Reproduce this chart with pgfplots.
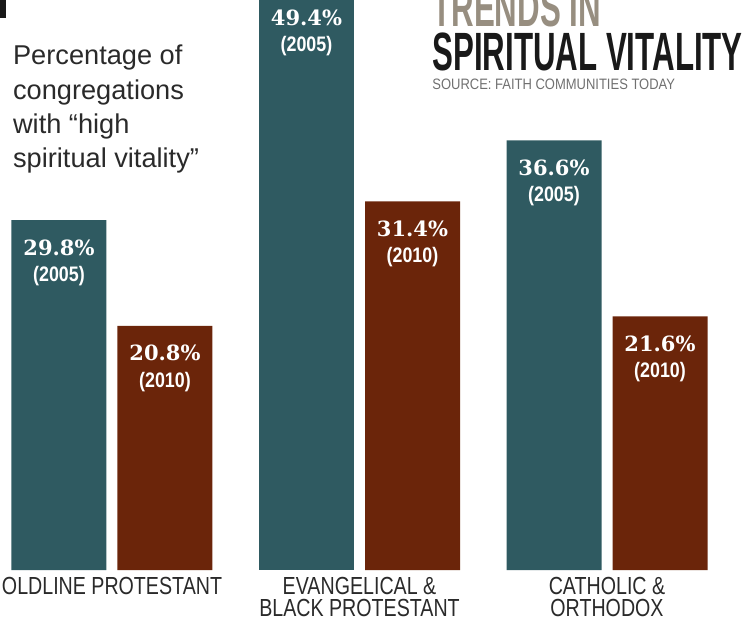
\documentclass[border=0pt]{standalone}
\usepackage{pgfplots}
\pgfplotsset{compat=1.18}
\usepackage{fontspec}
\setmainfont{Liberation Sans}
\newfontfamily\titlefont[FakeStretch=0.58]{Liberation Sans}
\newfontfamily\srcfont[FakeStretch=0.86]{Liberation Sans}
\newfontfamily\catfont[FakeStretch=0.795]{Liberation Sans}
\newfontfamily\yearfont[FakeStretch=0.85]{Liberation Sans}
\newfontfamily\numfont{DejaVu Serif}
\definecolor{tealbar}{HTML}{2F5A61}
\definecolor{rustbar}{HTML}{6B250A}
\definecolor{tantitle}{HTML}{978E80}
\definecolor{srcgray}{HTML}{707070}
\definecolor{txt}{HTML}{2A2A2A}
\tikzset{barlabel/.style={anchor=north, yshift=-9.5pt, inner sep=0pt,
    align=center, text=white, font=\fontsize{10.5pt}{13.25pt}\selectfont}}
\begin{document}
\begin{tikzpicture}
\begin{axis}[
  width=376pt, height=310.5pt, scale only axis,
  hide axis,
  xmin=-0.4525, xmax=2.5859, ymin=-4.344, ymax=48.552,
  ybar, bar width=47.5pt,
  point meta=explicit symbolic,
  every node near coord/.append style={barlabel},
]
\addplot[fill=tealbar, draw=none, bar shift=-26.5pt,
  nodes near coords={{\numfont\bfseries\pgfplotspointmeta\%}\\{\yearfont\bfseries (2005)}}]
  coordinates {(0,29.8)[29.8] (2,36.6)[36.6]};
\addplot[fill=tealbar, draw=none, bar shift=-26.5pt, forget plot]
  coordinates {(1,49.4)};
\addplot[fill=rustbar, draw=none, bar shift=26.5pt,
  nodes near coords={{\numfont\bfseries\pgfplotspointmeta\%}\\{\yearfont\bfseries (2010)}}]
  coordinates {(0,20.8)[20.8] (1,31.4)[31.4] (2,21.6)[21.6]};
% label of the 49.4 bar, whose top lies above the cropped picture
\node[barlabel, xshift=-26.5pt] at (axis cs:1,49.4)
  {{\numfont\bfseries 49.4\%}\\{\yearfont\bfseries (2005)}};

% category labels
\node[anchor=north, inner sep=0pt, align=center, text=txt,
  font=\catfont\fontsize{12.35pt}{11pt}\selectfont] at (axis cs:0,0) [yshift=-3.5pt] {OLDLINE PROTESTANT};
\node[anchor=north, inner sep=0pt, align=center, text=txt,
  font=\catfont\fontsize{12.35pt}{11pt}\selectfont] at (axis cs:1,0) [yshift=-3.5pt] {EVANGELICAL \&\\BLACK PROTESTANT};
\node[anchor=north, inner sep=0pt, align=center, text=txt,
  font=\catfont\fontsize{12.35pt}{11pt}\selectfont] at (axis cs:2,0) [yshift=-3.5pt] {CATHOLIC \&\\ORTHODOX};

% left description
\node[anchor=base west, inner sep=0pt, text=txt, font=\fontsize{13.6pt}{17pt}\selectfont]
  at (rel axis cs:{12.7/752},{1-65/621}) {Percentage of};
\node[anchor=base west, inner sep=0pt, text=txt, font=\fontsize{13.6pt}{17pt}\selectfont]
  at (rel axis cs:{12.7/752},{1-99.5/621}) {congregations};
\node[anchor=base west, inner sep=0pt, text=txt, font=\fontsize{13.6pt}{17pt}\selectfont]
  at (rel axis cs:{12.7/752},{1-134/621}) {with ``high};
\node[anchor=base west, inner sep=0pt, text=txt, font=\fontsize{13.6pt}{17pt}\selectfont]
  at (rel axis cs:{12.7/752},{1-168/621}) {spiritual vitality''};

% title
\node[anchor=base west, inner sep=0pt, text=tantitle, font=\titlefont\bfseries\fontsize{26.95pt}{27pt}\selectfont]
  at (rel axis cs:{432/752},{1-26.7/621}) {TRENDS IN};
\node[anchor=base west, inner sep=0pt, text=black!90, font=\titlefont\bfseries\fontsize{26.95pt}{27pt}\selectfont]
  at (rel axis cs:{432/752},{1-71/621}) {SPIRITUAL VITALITY};
\node[anchor=base west, inner sep=0pt, text=srcgray, font=\srcfont\fontsize{7.55pt}{8pt}\selectfont]
  at (rel axis cs:{432/752},{1-89.3/621}) {SOURCE: FAITH COMMUNITIES TODAY};

% fragment of a black block at top left
\fill[black!90] (rel axis cs:0,1) rectangle (rel axis cs:{6/752},{1-18/621});
\end{axis}
\pgfresetboundingbox
\path[use as bounding box] (current axis.south west) rectangle (current axis.north east);
\end{tikzpicture}
\end{document}
